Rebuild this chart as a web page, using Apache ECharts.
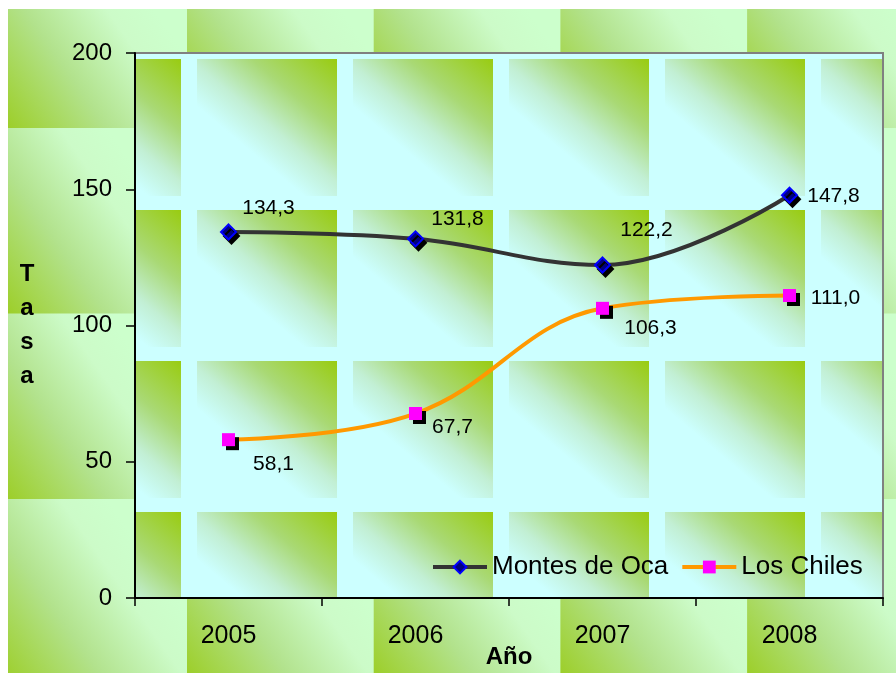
<!DOCTYPE html>
<html>
<head>
<meta charset="utf-8">
<style>
  html, body { margin: 0; padding: 0; background: #fff; }
  #chart { width: 896px; height: 673px; }
</style>
<script src="https://cdn.jsdelivr.net/npm/echarts@6/dist/echarts.min.js"></script>
</head>
<body>
<div id="chart"></div>
<script>
const years = ['2005', '2006', '2007', '2008']
const montesDeOca = [134.3, 131.8, 122.2, 147.8]
const losChiles = [58.1, 67.7, 106.3, 111.0]
const yTicks = [0, 50, 100, 150, 200]

// label offsets from each marker
const montesLabelOffset = [[40, -24], [42, -20], [44, -35], [44, 1]]
const chilesLabelOffset = [[45, 25], [37, 14], [48, 20], [46, 3]]

const FONT = 'Arial, "Liberation Sans", sans-serif'

// the tiled green texture of the Excel chart area and plot area
function makeBackground() {
  const c = document.createElement('canvas')
  c.width = 896
  c.height = 673
  const g = c.getContext('2d')
  g.fillStyle = '#ffffff'
  g.fillRect(0, 0, 896, 673)

  g.save()
  g.beginPath()
  g.rect(8, 9, 888, 664)
  g.clip()
  const tw = 186.7, th = 185.5
  for (let x = 0.3; x < 896; x += tw) {
    for (let y = -57.5; y < 673; y += th) {
      const gr = g.createLinearGradient(x, y + th, x + tw * 0.85, y + th * 0.4)
      gr.addColorStop(0, '#9bcd22')
      gr.addColorStop(0.45, '#b2e28c')
      gr.addColorStop(0.8, '#ccfbc8')
      gr.addColorStop(1, '#ccffcc')
      g.fillStyle = gr
      g.fillRect(x, y, tw + 1, th + 1)
    }
  }
  g.restore()

  g.save()
  g.beginPath()
  g.rect(135, 53, 748, 545)
  g.clip()
  g.fillStyle = '#ccffff'
  g.fillRect(135, 53, 748, 545)
  const pw = 156, ph = 151
  for (let x = 25; x < 896; x += pw) {
    for (let y = -92; y < 673; y += ph) {
      const gr = g.createLinearGradient(x + pw, y, x + pw * 0.35, y + ph * 0.8)
      gr.addColorStop(0, '#99cc11')
      gr.addColorStop(0.35, '#a9d975')
      gr.addColorStop(0.6, '#c2efd4')
      gr.addColorStop(0.8, '#ccffff')
      gr.addColorStop(1, '#ccffff')
      g.fillStyle = gr
      g.fillRect(x + 16, y, pw - 16, ph - 14)
    }
  }
  g.restore()
  return c
}

const fmt = v => v.toFixed(1).replace('.', ',')

function withLabels(values, offsets) {
  return values.map((v, i) => ({ value: v, label: { offset: offsets[i] } }))
}

const chart = echarts.init(document.getElementById('chart'), null, { renderer: 'canvas' })

chart.setOption({
  animation: false,
  textStyle: { fontFamily: FONT, color: '#000' },
  graphic: [{
    type: 'image',
    left: 0,
    top: 0,
    z: -10,
    silent: true,
    style: { image: makeBackground(), width: 896, height: 673 }
  }],
  grid: {
    left: 135,
    top: 53,
    right: 13,
    bottom: 75,
    show: true,
    backgroundColor: 'transparent',
    borderColor: '#808080',
    borderWidth: 2,
    outerBoundsMode: 'none'
  },
  legend: {
    left: 431,
    top: 553,
    padding: 0,
    itemWidth: 54,
    itemHeight: 16,
    itemGap: 12,
    lineStyle: { width: 4 },
    textStyle: { fontSize: 26, fontFamily: FONT, color: '#000', lineHeight: 28 },
    data: ['Montes de Oca', 'Los Chiles']
  },
  xAxis: {
    type: 'category',
    data: years,
    boundaryGap: true,
    name: 'Año',
    nameLocation: 'middle',
    nameGap: 47,
    nameMoveOverlap: false,
    nameTextStyle: { fontSize: 24, fontWeight: 'bold', fontFamily: FONT, color: '#000' },
    axisLine: { lineStyle: { color: '#000', width: 2 } },
    axisTick: { show: true, length: 8, alignWithLabel: false, lineStyle: { color: '#000', width: 1.5 } },
    axisLabel: { fontSize: 25, color: '#000', margin: 26, fontFamily: FONT },
    splitLine: { show: false }
  },
  yAxis: {
    type: 'value',
    min: yTicks[0],
    max: yTicks[yTicks.length - 1],
    interval: 50,
    name: 'T\na\ns\na',
    nameLocation: 'middle',
    nameRotate: 0,
    nameGap: 108,
    nameMoveOverlap: false,
    nameTextStyle: { fontSize: 24, fontWeight: 'bold', fontFamily: FONT, color: '#000', lineHeight: 34, align: 'center' },
    axisLine: { show: true, lineStyle: { color: '#000', width: 2 } },
    axisTick: { show: true, length: 9, lineStyle: { color: '#000', width: 1.5 } },
    axisLabel: { fontSize: 24, color: '#000', margin: 23, fontFamily: FONT },
    splitLine: { show: false }
  },
  series: [
    {
      name: 'Montes de Oca',
      type: 'line',
      data: withLabels(montesDeOca, montesLabelOffset),
      smooth: 0.4,
      symbol: 'diamond',
      symbolSize: 15,
      z: 3,
      lineStyle: { color: '#333333', width: 4 },
      itemStyle: {
        color: '#000080',
        borderColor: '#0000ff',
        borderWidth: 2,
        shadowColor: '#000',
        shadowBlur: 0,
        shadowOffsetX: 3,
        shadowOffsetY: 4
      },
      label: {
        show: true,
        position: 'inside',
        align: 'center',
        verticalAlign: 'middle',
        fontSize: 21,
        fontFamily: FONT,
        color: '#000',
        formatter: p => fmt(p.value)
      }
    },
    {
      name: 'Los Chiles',
      type: 'line',
      data: withLabels(losChiles, chilesLabelOffset),
      smooth: 0.4,
      symbol: 'rect',
      symbolSize: 13,
      z: 2,
      lineStyle: { color: '#ff9900', width: 4 },
      itemStyle: {
        color: '#ff00ff',
        borderColor: '#ff00ff',
        borderWidth: 0,
        shadowColor: '#000',
        shadowBlur: 0,
        shadowOffsetX: 4,
        shadowOffsetY: 4
      },
      label: {
        show: true,
        position: 'inside',
        align: 'center',
        verticalAlign: 'middle',
        fontSize: 21,
        fontFamily: FONT,
        color: '#000',
        formatter: p => fmt(p.value)
      }
    }
  ]
})
</script>
</body>
</html>
